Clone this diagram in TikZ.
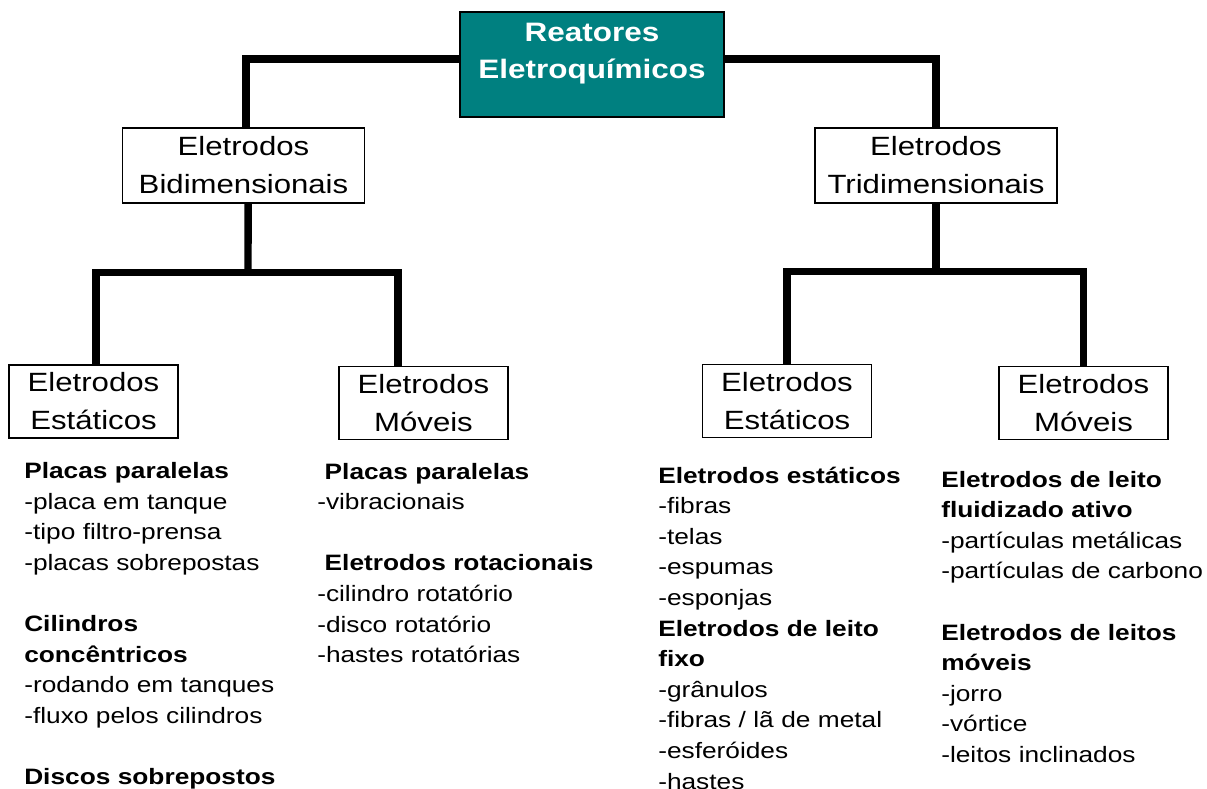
\documentclass[tikz,border=0pt]{standalone}
\usepackage{fontspec}
\setmainfont{Liberation Sans}[FakeStretch=1.18]
\usetikzlibrary{positioning,calc}
\definecolor{txt}{HTML}{000000}
\definecolor{tlF}{HTML}{008080}
\definecolor{tlB}{HTML}{000000}
\definecolor{bxF}{HTML}{FFFFFF}
\definecolor{bxB}{HTML}{000000}
\definecolor{brB}{HTML}{000000}

\begin{document}
\begin{tikzpicture}[x=0.75pt,y=-0.75pt,text=txt,
  box/.style={draw=bxB,fill=bxF,line width=1pt,align=center,inner sep=0pt,font=\fontsize{19.8}{28.5}\selectfont},
  rootbox/.style={draw=tlB,fill=tlF,line width=1.2pt,minimum width=198pt,minimum height=78.75pt,inner sep=0pt},
  ttl/.style={align=center,text=white,inner sep=0pt,font=\fontsize{20}{27.75}\selectfont\bfseries},
  mid/.style={box,minimum width=181.5pt,minimum height=56.25pt},
  leaf/.style={box,minimum width=126.75pt,minimum height=54.75pt},
  lst/.style={anchor=base west,align=left,text width=230pt,inner sep=0pt,font=\fontsize{16.7}{22.95}\selectfont},
  bar/.style={draw=brB,line width=5.6pt,line join=miter}]

\useasboundingbox (0,0) rectangle (1207,789);

\node[rootbox] (root) at (592,64.5) {};
\node[ttl] (roottxt) at (592,54) {Reatores\\Eletroquímicos};

\node[mid] (bid) at (243.5,165.5) {Eletrodos\\Bidimensionais};
\node[mid] (tri) at (936,165.5) {Eletrodos\\Tridimensionais};

\node[leaf] (lest) at (93.5,401.5) {Eletrodos\\Estáticos};
\node[leaf] (lmov) at (423.5,403) {Eletrodos\\Móveis};
\node[leaf] (rest) at (787,401) {Eletrodos\\Estáticos};
\node[leaf] (rmov) at (1083.5,403) {Eletrodos\\Móveis};

% tree connectors
\coordinate (lj) at (248,272.5);
\coordinate (rj) at (936,271.5);
\draw[bar] ([yshift=4.1pt]root.west) -| ([xshift=1.9pt]bid.north);
\draw[bar] ([yshift=4.1pt]root.east) -| (tri.north);
\draw[bar] ([xshift=3.4pt]bid.south) -- (lj);
\draw[bar] ([xshift=1.9pt]lest.north) |- (lj) -| ([xshift=-19.1pt]lmov.north);
\draw[bar] (tri.south) -- (rj);
\draw[bar] (rest.north) |- (rj) -| (rmov.north);

% lists under the boxes
\node[lst] (l1) at (24,478.5) {\textbf{Placas paralelas}\\-placa em tanque\\-tipo filtro-prensa\\-placas sobrepostas\\[22.95pt]%
  \textbf{Cilindros}\\\textbf{concêntricos}\\-rodando em tanques\\-fluxo pelos cilindros\\[22.95pt]%
  \textbf{Discos sobrepostos}};
\node[lst] (l2) at (317,479) {~\textbf{Placas paralelas}\\-vibracionais\\[22.95pt]%
  ~\textbf{Eletrodos rotacionais}\\-cilindro rotatório\\-disco rotatório\\-hastes rotatórias};
\node[lst] (l3) at (658,483) {\textbf{Eletrodos estáticos}\\-fibras\\-telas\\-espumas\\-esponjas\\%
  \textbf{Eletrodos de leito}\\\textbf{fixo}\\-grânulos\\-fibras / lã de metal\\-esferóides\\-hastes};
\node[lst] (l4) at (941,487) {\textbf{Eletrodos de leito}\\\textbf{fluidizado ativo}\\-partículas metálicas\\-partículas de carbono\\[22.95pt]%
  \textbf{Eletrodos de leitos}\\\textbf{móveis}\\-jorro\\-vórtice\\-leitos inclinados};

\end{tikzpicture}
\end{document}
